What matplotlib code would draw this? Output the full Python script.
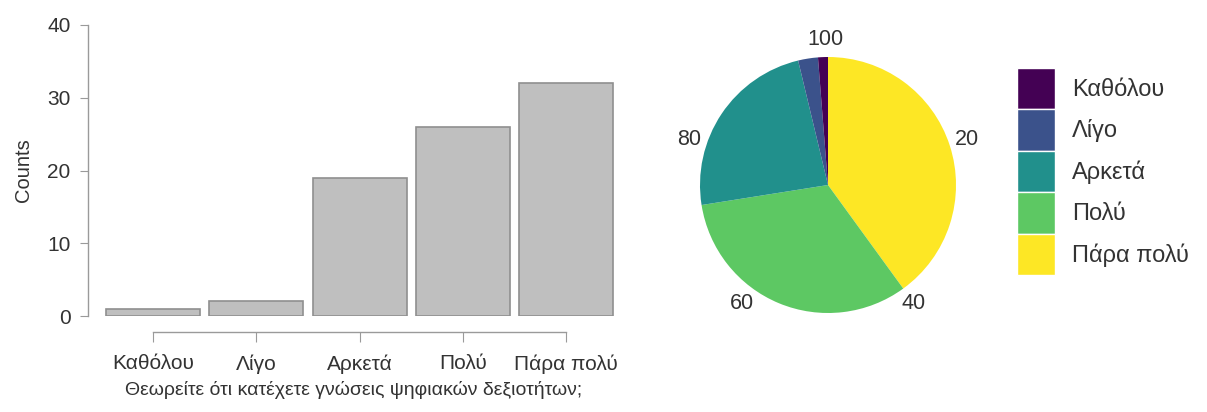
import numpy as np
import matplotlib
matplotlib.use("Agg")
import matplotlib.pyplot as plt
from matplotlib.patches import Patch

plt.rcParams['font.family'] = ['Liberation Sans', 'DejaVu Sans']

# Data
categories = ["Καθόλου", "Λίγο", "Αρκετά", "Πολύ", "Πάρα πολύ"]
counts = np.array([1, 2, 19, 26, 32])
colors = ["#440154", "#3B528B", "#21908C", "#5DC863", "#FDE725"]
y_ticks = [0, 10, 20, 30, 40]
pie_ticks = [20, 40, 60, 80, 100]
x_title = "Θεωρείτε ότι κατέχετε γνώσεις ψηφιακών δεξιοτήτων;"

text_col = "#333333"
axis_col = "#9a9a9a"

fig = plt.figure(figsize=(12.07, 4.12), dpi=100)

# Bar chart
ax = fig.add_axes([88 / 1207, 1 - 316 / 412, 532 / 1207, 291 / 412])
x = np.arange(len(categories))
ax.bar(x, counts, width=0.91, color="#bfbfbf", edgecolor="#8f8f8f", linewidth=1.2)
ax.set_xlim(-0.63, 4.52)
ax.set_ylim(0, 40)
for s in ["top", "right"]:
    ax.spines[s].set_visible(False)
ax.spines["left"].set_bounds(0, 40)
ax.spines["bottom"].set_position(("outward", 11.5))
ax.spines["bottom"].set_bounds(0, 4)
for s in ["left", "bottom"]:
    ax.spines[s].set_color(axis_col)
    ax.spines[s].set_linewidth(1.0)
ax.set_xticks(x)
ax.set_xticklabels(categories)
ax.set_yticks(y_ticks)
ax.tick_params(axis="both", colors=axis_col, labelcolor=text_col, labelsize=15)
ax.tick_params(axis="x", length=7, pad=9)
ax.tick_params(axis="y", length=5.5, pad=7)
ax.set_ylabel("Counts", fontsize=14.5, color=text_col, labelpad=10)
ax.set_xlabel(x_title, fontsize=14, color=text_col, labelpad=5)

# Pie chart
pax = fig.add_axes([700 / 1207, 1 - 313 / 412, 256 / 1207, 256 / 412])
pax.pie(counts[::-1], colors=colors[::-1], startangle=90, counterclock=False,
        radius=1, wedgeprops=dict(linewidth=0))
pax.set_xlim(-1, 1)
pax.set_ylim(-1, 1)
pax.set_aspect("equal")
for t in pie_ticks:
    a = np.pi / 2 - 2 * np.pi * t / 100
    r = 1.14
    pax.text(r * np.cos(a) - (0.02 if t == 100 else 0), r * np.sin(a), str(t),
             ha="center", va="center", fontsize=15.5, color=text_col, clip_on=False)

# Legend
handles = [Patch(facecolor=c, edgecolor="white", linewidth=1.0) for c in colors]
fig.legend(handles, categories, loc="upper left",
           bbox_to_anchor=(1017 / 1207, 1 - 68 / 412), frameon=False,
           fontsize=17, handlelength=1.61, handleheight=2.32, labelspacing=0,
           handletextpad=0.72, borderpad=0, borderaxespad=0, labelcolor=text_col)

fig.savefig("out.png", dpi=100)
